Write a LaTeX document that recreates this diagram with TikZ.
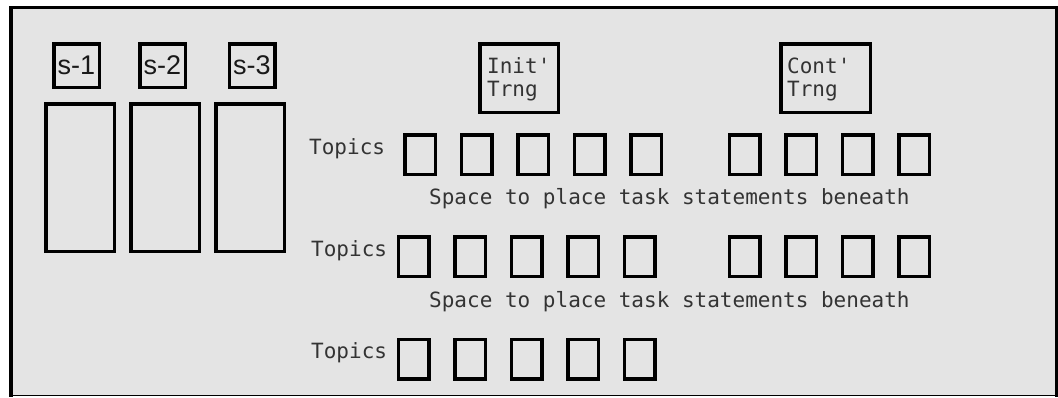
\documentclass[tikz,border=0pt]{standalone}
\usepackage{fontspec}
\newfontfamily\monof{DejaVu Sans Mono}
\newfontfamily\sansf{Liberation Sans}
\definecolor{bggray}{HTML}{E4E4E4}
\definecolor{txtgray}{HTML}{333333}
\tikzset{
  topicbox/.style={draw=black, line width=3.5pt, minimum width=30.5pt, minimum height=39.5pt, inner sep=0pt},
  sbox/.style={draw=black, line width=3.5pt, minimum width=45.5pt, minimum height=43.5pt, inner sep=0pt, font=\sansf\fontsize{27}{29}\selectfont, text=black!90},
  tallbox/.style={draw=black, line width=3.5pt, minimum width=68.5pt, minimum height=147.5pt, inner sep=0pt},
  trngbox/.style={draw=black, line width=3.5pt, minimum height=68.5pt, inner sep=0pt},
  monotext/.style={font=\monof\fontsize{21}{23}\selectfont, text=txtgray, inner sep=0pt},
}
\begin{document}
\begin{tikzpicture}[x=1pt,y=-1pt]
\useasboundingbox (0,0) rectangle (1058,397);
% frame
\fill[bggray] (11,7.5) rectangle (1056.5,395.5);
\draw[line width=4pt] (11,6) -- (11,397);
\draw[line width=3pt] (9,7.5) -- (1058,7.5);
\draw[line width=3pt] (1056.5,6) -- (1056.5,397);
\draw[line width=1.5pt] (9,395.5) -- (1058,395.5);
% s boxes
\node[sbox] (s1) at (76.5,65.5) {s-1};
\node[sbox] (s2) at (162.5,65.5) {s-2};
\node[sbox] (s3) at (252,65.5) {s-3};
% tall boxes
\node[tallbox] (t1) at (80,177.5) {};
\node[tallbox] (t2) at (165,177.5) {};
\node[tallbox] (t3) at (250,177.5) {};
% training boxes
\node[trngbox, minimum width=78.5pt] (init) at (519,78) {};
\node[trngbox, minimum width=89.5pt] (cont) at (825.5,78) {};
\node[monotext, anchor=base west] (initA) at (487,73) {Init'};
\node[monotext, anchor=base west] (initB) at (487,96) {Trng};
\node[monotext, anchor=base west] (contA) at (787,73) {Cont'};
\node[monotext, anchor=base west] (contB) at (787,96) {Trng};
% topics labels
\node[monotext, anchor=base west] (top1) at (309,154) {Topics};
\node[monotext, anchor=base west] (top2) at (311,256) {Topics};
\node[monotext, anchor=base west] (top3) at (311,358) {Topics};
% space labels
\node[monotext, anchor=base west] (sp1) at (429,204) {Space to place task statements beneath};
\node[monotext, anchor=base west] (sp2) at (429,307) {Space to place task statements beneath};
% row 1
\foreach \i in {0,...,4} {
  \node[topicbox] (ra\i) at (420+56.5*\i,154.5) {};
}
\foreach \i in {0,...,3} {
  \node[topicbox] (rb\i) at (744.5+56.5*\i,154.5) {};
}
% row 2
\foreach \i in {0,...,4} {
  \node[topicbox] (rc\i) at (413.5+56.5*\i,256.5) {};
}
\foreach \i in {0,...,3} {
  \node[topicbox] (rd\i) at (744.5+56.5*\i,256.5) {};
}
% row 3
\foreach \i in {0,...,4} {
  \node[topicbox] (re\i) at (413.5+56.5*\i,359) {};
}
\end{tikzpicture}
\end{document}
